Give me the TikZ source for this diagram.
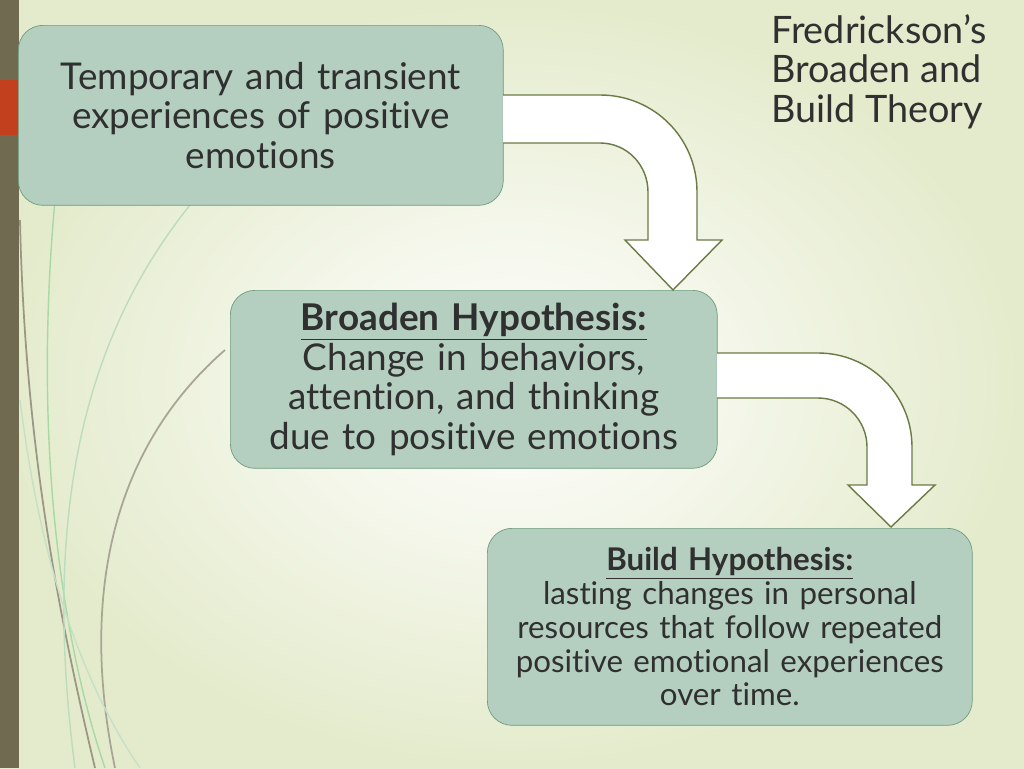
\documentclass[tikz,border=0pt]{standalone}
\usepackage{fontspec}
\setmainfont{Lato}[Ligatures=NoCommon]
\usetikzlibrary{positioning}
\definecolor{sage}{HTML}{B4CFBF}
\definecolor{sageline}{HTML}{6E9C7E}
\definecolor{ink}{HTML}{303030}
\definecolor{olive}{HTML}{6F6A50}
\definecolor{rust}{HTML}{C2401E}
\definecolor{arrowline}{HTML}{6B7A45}
\definecolor{paper}{HTML}{E4EBCC}
\begin{document}
\begin{tikzpicture}[x=0.02cm,y=-0.02cm,
    box/.style={draw=sageline,fill=sage,rounded corners=14pt,align=center,
      text=ink,inner sep=0pt,anchor=north west},
    bigtext/.style={font=\fontsize{21}{22.5}\selectfont},
    smalltext/.style={font=\fontsize{17.8}{19.2}\selectfont},
    bentarrow/.style={draw=arrowline,fill=white,line width=0.8pt,line join=miter}]

  % background
  \shade[inner color=white,outer color=paper] (0,0) rectangle (1024,768);
  \useasboundingbox (0,0) rectangle (1024,768);

  % side bar and curves
  \fill[olive] (0,0) rectangle (19,768);
  \fill[rust] (0,80) rectangle (19,135);
  \draw[green!40!gray!50,line width=0.8pt] (55,200) .. controls (35,420) and (55,620) .. (105,768);
  \draw[olive!70,line width=1pt] (20,220) .. controls (25,450) and (60,620) .. (95,768);
  \draw[green!30!gray!40,line width=0.8pt] (190,205) .. controls (90,330) and (40,500) .. (75,768);
  \draw[olive!60,line width=1pt] (225,350) .. controls (110,450) and (80,600) .. (115,768);
  \draw[green!30!gray!35,line width=0.8pt] (20,400) .. controls (40,560) and (80,680) .. (140,768);

  % boxes
  \node[box,bigtext,text width=9.7cm,minimum height=3.6cm] (temp) at (18,25)
    {Temporary and transient\\experiences of positive\\emotions};
  \node[box,bigtext,text width=9.74cm,minimum height=3.56cm] (broaden) at (230,290)
    {\textbf{\underline{Broaden Hypothesis:}}\\Change in behaviors,\\attention, and thinking\\due to positive emotions};
  \node[box,smalltext,text width=9.7cm,minimum height=3.94cm] (build) at (487,528)
    {\textbf{\underline{Build Hypothesis:}}\\lasting changes in personal\\resources that follow repeated\\positive emotional experiences\\over time.};

  % title
  \node[anchor=north west,align=left,text=ink,font=\fontsize{21.5}{22.5}\selectfont] (title) at (765,8)
    {Fredrickson’s\\Broaden and\\Build Theory};

  % bent arrows
  \draw[bentarrow] (503,95) -- (600,95) .. controls (654,95) and (697,138) .. (697,192)
    -- (697,240) -- (722,240) -- (673,290) -- (625,240) -- (648,240) -- (648,192)
    .. controls (648,165) and (627,143) .. (600,143) -- (503,143);
  \draw[bentarrow] (717,353) -- (818,353) .. controls (870,353) and (912,395) .. (912,447)
    -- (912,485) -- (935,485) -- (891,527) -- (848,485) -- (867,485) -- (867,447)
    .. controls (867,420) and (845,398) .. (818,398) -- (717,398);
\end{tikzpicture}
\end{document}
